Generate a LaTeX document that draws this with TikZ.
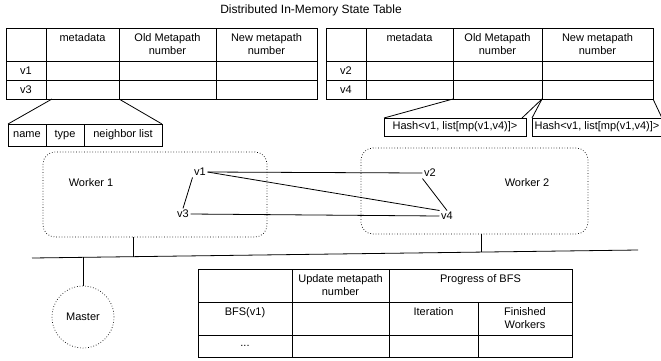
\documentclass[tikz,border=0pt]{standalone}
\usepackage{fontspec}
\setmainfont{Liberation Sans}
\usetikzlibrary{calc}
\newcommand\fsz{\fontsize{11}{13.5}\selectfont}
\tikzset{
 cellbox/.style={draw, line width=0.8pt, anchor=north west, inner sep=0pt, outer sep=0pt, font=\fsz, align=center},
 ctext/.style={anchor=north, inner sep=5pt, font=\fsz, align=center},
 workerbox/.style={draw, dotted, line width=0.7pt, rounded corners=12pt, anchor=north west, inner sep=0pt, outer sep=0pt},
 vtx/.style={inner sep=1.5pt, font=\fsz},
 lbl/.style={inner sep=0pt, font=\fsz},
 conn/.style={line width=0.8pt},
}
\newcommand\tcell[6]{\node[cellbox, minimum width=#4pt-#2pt, minimum height=#5pt-#3pt] (#1) at (#2,#3) {}; \node[ctext] at (#1.north) {#6};}
\newcommand\ccell[6]{\node[cellbox, minimum width=#4pt-#2pt, minimum height=#5pt-#3pt] (#1) at (#2,#3) {#6};}
\begin{document}
\begin{tikzpicture}[x=1pt,y=-1pt]
\useasboundingbox (0,0) rectangle (661,360);
% title
\node[inner sep=0pt, font=\fontsize{12}{14}\selectfont] (title) at (311,10) {Distributed In-Memory State Table};
% left table
\tcell{aH0}{6}{28}{46}{61}{}
\tcell{aH1}{46}{28}{119}{61}{metadata}
\tcell{aH2}{119}{28}{216}{61}{Old Metapath\\number}
\tcell{aH3}{216}{28}{317}{61}{New metapath\\number}
\ccell{aA0}{6}{61}{46}{80}{v1}
\ccell{aA1}{46}{61}{119}{80}{}
\ccell{aA2}{119}{61}{216}{80}{}
\ccell{aA3}{216}{61}{317}{80}{}
\ccell{aB0}{6}{80}{46}{99}{v3}
\ccell{aB1}{46}{80}{119}{99}{}
\ccell{aB2}{119}{80}{216}{99}{}
\ccell{aB3}{216}{80}{317}{99}{}
% right table
\tcell{bH0}{326}{28}{366}{61}{}
\tcell{bH1}{366}{28}{453}{61}{metadata}
\tcell{bH2}{453}{28}{542}{61}{Old Metapath\\number}
\tcell{bH3}{542}{28}{653}{61}{New metapath\\number}
\ccell{bA0}{326}{61}{366}{80}{v2}
\ccell{bA1}{366}{61}{453}{80}{}
\ccell{bA2}{453}{61}{542}{80}{}
\ccell{bA3}{542}{61}{653}{80}{}
\ccell{bB0}{326}{80}{366}{99}{v4}
\ccell{bB1}{366}{80}{453}{99}{}
\ccell{bB2}{453}{80}{542}{99}{}
\ccell{bB3}{542}{80}{653}{99}{}
% metadata sub-table
\ccell{s1}{8}{124}{46}{146}{name}
\ccell{s2}{46}{124}{84}{146}{type}
\ccell{s3}{84}{124}{162}{146}{neighbor list}
\draw[conn] ($(aB1.south west)+(6,0)$) -- (s1.north west);
\draw[conn] (aB1.south east) -- (s3.north east);
% hash boxes
\ccell{h1}{384}{118}{526}{136}{Hash<v1, list[mp(v1,v4)]>}
\ccell{h2}{532}{118}{662}{136}{Hash<v1, list[mp(v1,v4)]>}
\draw[conn] (bB2.south west) -- (h1.north west);
\draw[conn] (bB2.south east) -- ($(h1.north east)+(-4,0)$);
\draw[conn] (bB3.south west) -- (h2.north west);
\draw[conn] (bB3.south east) -- (h2.north east);
% workers
\node[workerbox, minimum width=224pt, minimum height=85pt] (w1) at (43,152) {};
\node[workerbox, minimum width=227pt, minimum height=86pt] (w2) at (361,148) {};
\node[lbl] (w1l) at (91,183) {Worker 1};
\node[lbl] (w2l) at (527,183) {Worker 2};
\node[vtx] (v1) at (200,172) {v1};
\node[vtx] (v3) at (183,214) {v3};
\node[vtx] (v2) at (430,173) {v2};
\node[vtx] (v4) at (447,216) {v4};
\draw[conn] (v1.east) -- (v2.west);
\draw[conn] (v1.east) -- (v4.north west);
\draw[conn] (v3.east) -- (v4.west);
\draw[conn] (v1.south west) -- (v3.north);
\draw[conn] (v2.south west) -- (v4.north);
% bus
\coordinate (busL) at (32,258);
\coordinate (busR) at (638,250);
\draw[conn] (busL) -- (busR);
\coordinate (j1) at ($(busL)!0.1667!(busR)$);
\coordinate (j2) at ($(busL)!0.7409!(busR)$);
\coordinate (j3) at ($(busL)!0.0842!(busR)$);
\draw[conn] (j1) -- (j1 |- w1.south);
\draw[conn] (j2) -- (j2 |- w2.south);
% master
\node[draw, dotted, circle, line width=0.7pt, minimum size=62pt, inner sep=0pt, font=\fsz] (master) at (83,317) {Master};
\draw[conn] (j3) -- (j3 |- master.north);
% BFS table
\tcell{cH0}{198}{269}{292}{302}{}
\tcell{cH1}{292}{269}{389}{302}{Update metapath\\number}
\tcell{cH2}{389}{269}{572}{302}{Progress of BFS}
\tcell{cA0}{198}{302}{292}{335}{BFS(v1)}
\tcell{cA1}{292}{302}{389}{335}{}
\tcell{cA2}{389}{302}{478}{335}{Iteration}
\tcell{cA3}{478}{302}{572}{335}{Finished\\Workers}
\ccell{cB0}{198}{335}{292}{357}{...}
\ccell{cB1}{292}{335}{389}{357}{}
\ccell{cB2}{389}{335}{478}{357}{}
\ccell{cB3}{478}{335}{572}{357}{}
\end{tikzpicture}
\end{document}
